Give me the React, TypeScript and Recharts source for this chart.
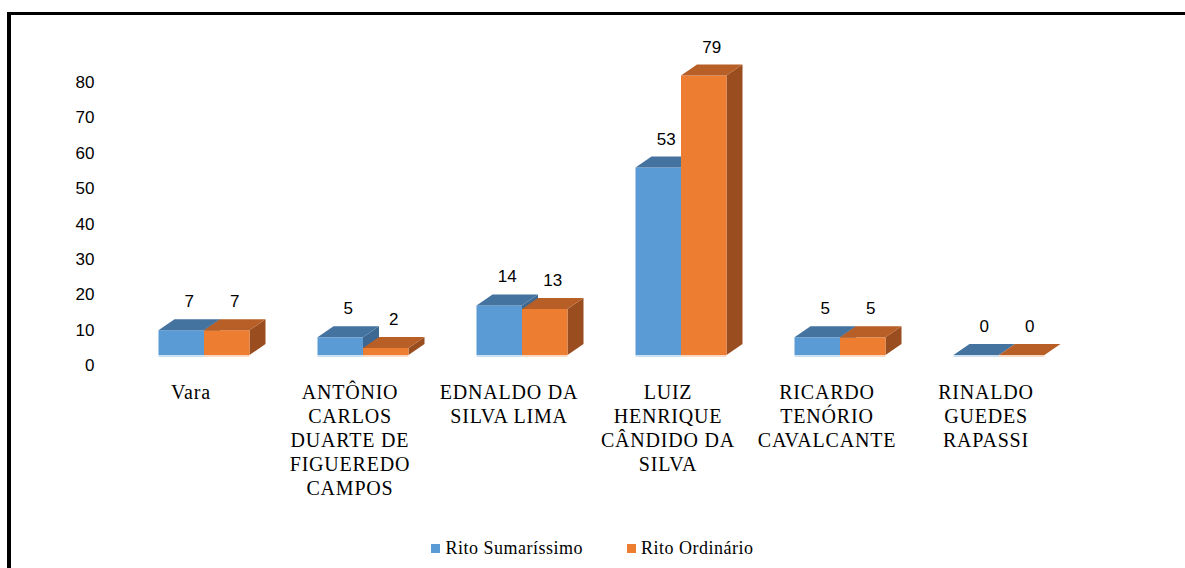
import { BarChart, Bar, XAxis, YAxis, LabelList } from "recharts";

const categories = [
  "Vara",
  "ANTÔNIO\nCARLOS\nDUARTE DE\nFIGUEREDO\nCAMPOS",
  "EDNALDO DA\nSILVA LIMA",
  "LUIZ\nHENRIQUE\nCÂNDIDO DA\nSILVA",
  "RICARDO\nTENÓRIO\nCAVALCANTE",
  "RINALDO\nGUEDES\nRAPASSI",
];
const sumarissimo = [7, 5, 14, 53, 5, 0];
const ordinario = [7, 2, 13, 79, 5, 0];
const yTicks = [0, 10, 20, 30, 40, 50, 60, 70, 80];

const series = [
  { key: "sumarissimo", name: "Rito Sumaríssimo", front: "#5b9bd5", top: "#4473a0", side: "#3c6892", floor: "#cfe0f1" },
  { key: "ordinario", name: "Rito Ordinário", front: "#ed7d31", top: "#b75f26", side: "#9a4d1e", floor: "#f9d9c4" },
];

const data = categories.map((name, i) => ({
  name,
  sumarissimo: sumarissimo[i],
  ordinario: ordinario[i],
}));

const SERIF =
  "'Liberation Serif', 'Times New Roman', Times, Tinos, 'Noto Serif', 'DejaVu Serif', FreeSerif, serif";
const SANS = "'Liberation Sans', Arial, sans-serif";

// depth of the fake 3D boxes
const DX = 16;
const DY = 11;

function boxShape(s: (typeof series)[number]) {
  return (p: any) => {
    const { x, y, width: w, height: h } = p;
    return (
      <g>
        <rect x={x} y={y + h} width={w} height={2} fill={s.floor} />
        <path
          d={`M${x + w},${y} L${x + w + DX},${y - DY} L${x + w + DX},${y + h - DY} L${x + w},${y + h} Z`}
          fill={s.side}
        />
        <rect x={x} y={y} width={w} height={h} fill={s.front} />
        <path d={`M${x},${y} L${x + DX},${y - DY} L${x + w + DX},${y - DY} L${x + w},${y} Z`} fill={s.top} />
      </g>
    );
  };
}

const ValueLabel = (p: any) => (
  <text
    x={p.x + p.width / 2 + DX / 2}
    y={p.y - 23}
    textAnchor="middle"
    style={{ fontFamily: SANS, fontSize: 17 }}
    fill="#000"
  >
    {p.value}
  </text>
);

const CategoryTick = (p: any) => {
  const lines = String(p.payload.value).split("\n");
  return (
    <text
      x={p.x - 13}
      y={p.y}
      textAnchor="middle"
      style={{ fontFamily: SERIF, fontSize: 20, letterSpacing: 0.8 }}
      fill="#000"
    >
      {lines.map((l, i) => (
        <tspan key={i} x={p.x - 13} dy={i === 0 ? 36 : 24}>
          {l}
        </tspan>
      ))}
    </text>
  );
};

const ValueTick = (p: any) => (
  <text
    x={p.x - 22}
    y={p.y + 16}
    textAnchor="end"
    style={{ fontFamily: SANS, fontSize: 17 }}
    fill="#000"
  >
    {p.payload.value}
  </text>
);

export default function App() {
  return (
    <div
      style={{
        position: "absolute",
        left: 0,
        top: 0,
        width: 1185,
        height: 568,
        overflow: "hidden",
        background: "#fff",
      }}
    >
      <div
        style={{
          position: "absolute",
          left: 7,
          top: 12,
          width: 1200,
          height: 600,
          borderLeft: "4px solid #000",
          borderTop: "3px solid #000",
        }}
      />
      <div style={{ position: "absolute", left: 0, top: 0 }}>
        <BarChart
          width={1185}
          height={568}
          data={data}
          margin={{ top: 72, right: 106.5, bottom: 183, left: 64.5 }}
          barGap={0}
          barSize={45.5}
        >
          <XAxis dataKey="name" axisLine={false} tickLine={false} interval={0} tick={<CategoryTick />} />
          <YAxis
            width={60}
            domain={[0, 80]}
            ticks={yTicks}
            axisLine={false}
            tickLine={false}
            tick={<ValueTick />}
          />
          {series.map((s) => (
            <Bar key={s.key} dataKey={s.key} name={s.name} isAnimationActive={false} shape={boxShape(s)}>
              <LabelList dataKey={s.key} content={<ValueLabel />} />
            </Bar>
          ))}
        </BarChart>
      </div>
      <div
        style={{
          position: "absolute",
          left: 0,
          width: 1185,
          top: 538,
          display: "flex",
          justifyContent: "center",
          gap: 44,
          fontFamily: SERIF,
          fontSize: 18,
          letterSpacing: 0.5,
          color: "#000",
        }}
      >
        {series.map((s) => (
          <div key={s.key} style={{ display: "flex", alignItems: "center" }}>
            <span style={{ width: 9, height: 9, background: s.front, marginRight: 5, display: "inline-block" }} />
            <span>{s.name}</span>
          </div>
        ))}
      </div>
    </div>
  );
}
